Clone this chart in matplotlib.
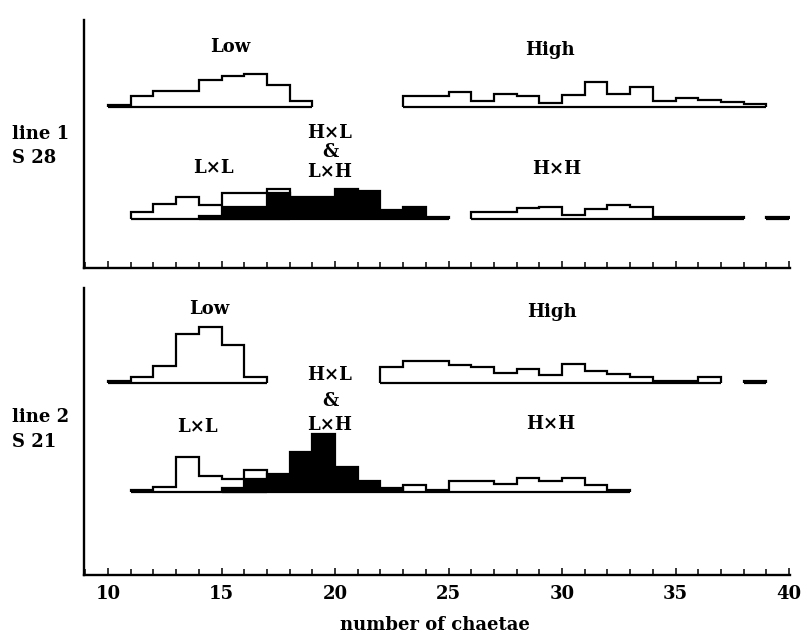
import numpy as np
import matplotlib.pyplot as plt
from matplotlib.ticker import MultipleLocator

plt.rcParams['font.family'] = ['DejaVu Serif']
plt.rcParams['font.weight'] = 'bold'

nan = np.nan

# heights of each chaetae class (class width 1, first class = *_start)
# line 1, S 28
l1_low_start = 10
l1_low = [2, 11, 16, 16, 27, 31, 33, 22, 6]
l1_high_start = 23
l1_high = [11, 11, 15, 6, 13, 11, 4, 12, 25, 13, 20, 6, 9, 7, 5, 3]
l1_ll_start = 11
l1_ll = [7, 15, 22, 14, 26, 26, 30]
l1_hl_start = 14
l1_hl = [3, 12, 12, 26, 22, 22, 30, 28, 9, 12, 2]
l1_hh_start = 26
l1_hh = [7, 7, 11, 12, 4, 10, 14, 12, 2, 2, 2, 2, nan, 2]

# line 2, S 21
l2_low_start = 10
l2_low = [2, 6, 17, 49, 56, 38, 6]
l2_high_start = 22
l2_high = [16, 22, 22, 18, 16, 10, 14, 8, 19, 12, 9, 6, 2, 2, 6, nan, 2]
l2_ll_start = 11
l2_ll = [2, 5, 35, 16, 13, 22]
l2_hl_start = 15
l2_hl = [4, 13, 18, 40, 58, 25, 11, 4]
l2_hh_start = 23
l2_hh = [7, 2, 11, 11, 8, 14, 11, 14, 7, 2]

xticks_major = [10, 15, 20, 25, 30, 35, 40]

W, H = 809, 638
fig = plt.figure(figsize=(W / 100, H / 100), dpi=100)

LW = 1.6


def hist(ax, start, heights, base, face, z):
    h = np.array(heights, dtype=float)
    edges = np.arange(start, start + len(h) + 1)
    ax.stairs(base + h, edges, baseline=base, fill=True, facecolor=face,
              edgecolor='black', linewidth=LW, zorder=z)
    # bottom line of each piece
    ok = ~np.isnan(h)
    i = 0
    while i < len(h):
        if ok[i]:
            j = i
            while j < len(h) and ok[j]:
                j += 1
            ax.plot([edges[i], edges[j]], [base, base], color='black',
                    lw=LW, solid_capstyle='butt', zorder=z)
            i = j
        else:
            i += 1


def frame(ax, top, labels):
    ax.set_xlim(8.94, 40.04)
    ax.set_ylim(0, top)
    for s in ['top', 'right']:
        ax.spines[s].set_visible(False)
    for s in ['left', 'bottom']:
        ax.spines[s].set_linewidth(1.7)
    ax.set_yticks([])
    ax.xaxis.set_major_locator(MultipleLocator(5))
    ax.xaxis.set_minor_locator(MultipleLocator(1))
    ax.tick_params(axis='x', which='both', direction='in', width=1.1)
    ax.tick_params(axis='x', which='major', length=5, pad=7, labelsize=13)
    ax.tick_params(axis='x', which='minor', length=4)
    ax.tick_params(axis='x', labelbottom=labels)
    ax.patch.set_alpha(0)


# top panel: line 1
ax1 = fig.add_axes([84 / W, 1 - 268 / H, 706 / W, 248 / H])
frame(ax1, 248, False)
hist(ax1, l1_low_start, l1_low, 161, 'white', 2)
hist(ax1, l1_high_start, l1_high, 161, 'white', 2)
hist(ax1, l1_ll_start, l1_ll, 49, 'white', 2)
hist(ax1, l1_hh_start, l1_hh, 49, 'white', 2)
hist(ax1, l1_hl_start, l1_hl, 49, 'black', 3)

# bottom panel: line 2
ax2 = fig.add_axes([84 / W, 1 - 575 / H, 706 / W, 287 / H])
frame(ax2, 287, True)
ax2.set_xticks(xticks_major)
hist(ax2, l2_low_start, l2_low, 192, 'white', 2)
hist(ax2, l2_high_start, l2_high, 192, 'white', 2)
hist(ax2, l2_ll_start, l2_ll, 83, 'white', 2)
hist(ax2, l2_hh_start, l2_hh, 83, 'white', 2)
hist(ax2, l2_hl_start, l2_hl, 83, 'black', 3)


def put(px, py, s, ha='center', size=13):
    fig.text(px / W, 1 - py / H, s, ha=ha, va='center', fontsize=size)


put(230, 47, 'Low')
put(550, 50, 'High')
put(330, 133, 'H×L')
put(330, 152, '&')
put(330, 172, 'L×H')
put(213, 168, 'L×L')
put(557, 169, 'H×H')
put(12, 134, 'line 1', ha='left')
put(12, 158, 'S 28', ha='left')

put(209, 309, 'Low')
put(552, 312, 'High')
put(330, 375, 'H×L')
put(330, 401, '&')
put(330, 425, 'L×H')
put(197, 427, 'L×L')
put(551, 424, 'H×H')
put(12, 417, 'line 2', ha='left')
put(12, 442, 'S 21', ha='left')

put(435, 625, 'number of chaetae')

fig.savefig('out.png', dpi=100)
